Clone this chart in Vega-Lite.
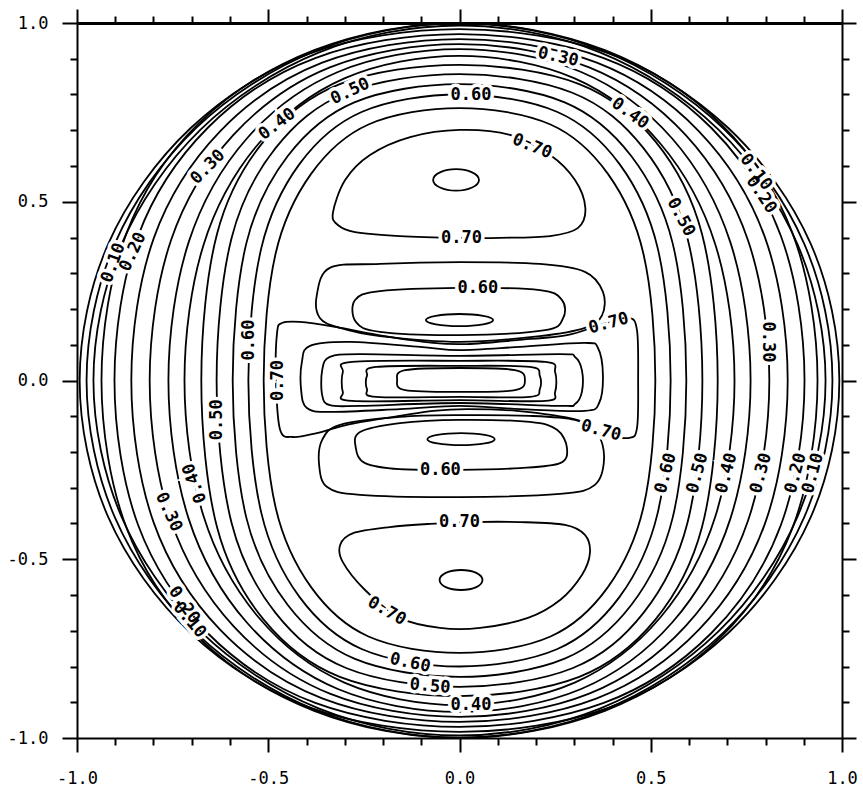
{
  "$schema": "https://vega.github.io/schema/vega-lite/v6.json",
  "autosize": "none",
  "width": 765,
  "height": 715,
  "padding": {"left": 77, "top": 23, "right": 21, "bottom": 54},
  "background": "white",
  "config": {
    "view": {"stroke": null},
    "axis": {"grid": false, "domainColor": "black", "tickColor": "black", "labelFont": "DejaVu Sans Mono", "labelFontSize": 17, "labelColor": "black", "domainWidth": 2, "tickWidth": 2}
  },
  "datasets": {
    "contours": [
      {"c":"o00","x":0.993,"y":0},{"c":"o00","x":0.918,"y":0.383},{"c":"o00","x":0.702,"y":0.707},{"c":"o00","x":0.38,"y":0.924},{"c":"o00","x":0,"y":1},{"c":"o00","x":-0.38,"y":0.924},{"c":"o00","x":-0.702,"y":0.707},{"c":"o00","x":-0.918,"y":0.383},{"c":"o00","x":-0.993,"y":0},{"c":"o00","x":-0.918,"y":-0.383},{"c":"o00","x":-0.702,"y":-0.707},{"c":"o00","x":-0.38,"y":-0.924},{"c":"o00","x":0,"y":-1},{"c":"o00","x":0.38,"y":-0.924},{"c":"o00","x":0.702,"y":-0.707},{"c":"o00","x":0.918,"y":-0.383},
      {"c":"o05","x":0.975,"y":0},{"c":"o05","x":0.901,"y":0.383},{"c":"o05","x":0.689,"y":0.706},{"c":"o05","x":0.373,"y":0.923},{"c":"o05","x":0,"y":0.999},{"c":"o05","x":-0.373,"y":0.923},{"c":"o05","x":-0.689,"y":0.706},{"c":"o05","x":-0.901,"y":0.383},{"c":"o05","x":-0.975,"y":0},{"c":"o05","x":-0.901,"y":-0.383},{"c":"o05","x":-0.689,"y":-0.706},{"c":"o05","x":-0.373,"y":-0.923},{"c":"o05","x":0,"y":-0.999},{"c":"o05","x":0.373,"y":-0.923},{"c":"o05","x":0.689,"y":-0.706},{"c":"o05","x":0.901,"y":-0.383},
      {"c":"o10","x":0.957,"y":0},{"c":"o10","x":0.884,"y":0.38},{"c":"o10","x":0.677,"y":0.702},{"c":"o10","x":0.367,"y":0.918},{"c":"o10","x":0,"y":0.993},{"c":"o10","x":-0.367,"y":0.918},{"c":"o10","x":-0.677,"y":0.702},{"c":"o10","x":-0.884,"y":0.38},{"c":"o10","x":-0.957,"y":0},{"c":"o10","x":-0.884,"y":-0.38},{"c":"o10","x":-0.677,"y":-0.702},{"c":"o10","x":-0.367,"y":-0.918},{"c":"o10","x":0,"y":-0.993},{"c":"o10","x":0.367,"y":-0.918},{"c":"o10","x":0.677,"y":-0.702},{"c":"o10","x":0.884,"y":-0.38},
      {"c":"o15","x":0.936,"y":0},{"c":"o15","x":0.871,"y":0.411},{"c":"o15","x":0.683,"y":0.718},{"c":"o15","x":0.391,"y":0.915},{"c":"o15","x":0,"y":0.983},{"c":"o15","x":-0.391,"y":0.915},{"c":"o15","x":-0.683,"y":0.718},{"c":"o15","x":-0.871,"y":0.411},{"c":"o15","x":-0.936,"y":0},{"c":"o15","x":-0.871,"y":-0.411},{"c":"o15","x":-0.683,"y":-0.718},{"c":"o15","x":-0.391,"y":-0.915},{"c":"o15","x":0,"y":-0.983},{"c":"o15","x":0.391,"y":-0.915},{"c":"o15","x":0.683,"y":-0.718},{"c":"o15","x":0.871,"y":-0.411},
      {"c":"o20","x":0.902,"y":0},{"c":"o20","x":0.84,"y":0.405},{"c":"o20","x":0.658,"y":0.707},{"c":"o20","x":0.377,"y":0.902},{"c":"o20","x":0,"y":0.969},{"c":"o20","x":-0.377,"y":0.902},{"c":"o20","x":-0.658,"y":0.707},{"c":"o20","x":-0.84,"y":0.405},{"c":"o20","x":-0.902,"y":0},{"c":"o20","x":-0.84,"y":-0.405},{"c":"o20","x":-0.658,"y":-0.707},{"c":"o20","x":-0.377,"y":-0.902},{"c":"o20","x":0,"y":-0.969},{"c":"o20","x":0.377,"y":-0.902},{"c":"o20","x":0.658,"y":-0.707},{"c":"o20","x":0.84,"y":-0.405},
      {"c":"o25","x":0.858,"y":0},{"c":"o25","x":0.799,"y":0.399},{"c":"o25","x":0.626,"y":0.697},{"c":"o25","x":0.359,"y":0.889},{"c":"o25","x":0,"y":0.955},{"c":"o25","x":-0.359,"y":0.889},{"c":"o25","x":-0.626,"y":0.697},{"c":"o25","x":-0.799,"y":0.399},{"c":"o25","x":-0.858,"y":0},{"c":"o25","x":-0.799,"y":-0.399},{"c":"o25","x":-0.626,"y":-0.697},{"c":"o25","x":-0.359,"y":-0.889},{"c":"o25","x":0,"y":-0.955},{"c":"o25","x":0.359,"y":-0.889},{"c":"o25","x":0.626,"y":-0.697},{"c":"o25","x":0.799,"y":-0.399},
      {"c":"o30","x":0.81,"y":0},{"c":"o30","x":0.754,"y":0.393},{"c":"o30","x":0.591,"y":0.687},{"c":"o30","x":0.339,"y":0.876},{"c":"o30","x":0,"y":0.941},{"c":"o30","x":-0.339,"y":0.876},{"c":"o30","x":-0.591,"y":0.687},{"c":"o30","x":-0.754,"y":0.393},{"c":"o30","x":-0.81,"y":0},{"c":"o30","x":-0.754,"y":-0.393},{"c":"o30","x":-0.591,"y":-0.687},{"c":"o30","x":-0.339,"y":-0.876},{"c":"o30","x":0,"y":-0.941},{"c":"o30","x":0.339,"y":-0.876},{"c":"o30","x":0.591,"y":-0.687},{"c":"o30","x":0.754,"y":-0.393},
      {"c":"o35","x":0.761,"y":0},{"c":"o35","x":0.708,"y":0.387},{"c":"o35","x":0.556,"y":0.677},{"c":"o35","x":0.318,"y":0.863},{"c":"o35","x":0,"y":0.927},{"c":"o35","x":-0.318,"y":0.863},{"c":"o35","x":-0.556,"y":0.677},{"c":"o35","x":-0.708,"y":0.387},{"c":"o35","x":-0.761,"y":0},{"c":"o35","x":-0.708,"y":-0.387},{"c":"o35","x":-0.556,"y":-0.677},{"c":"o35","x":-0.318,"y":-0.863},{"c":"o35","x":0,"y":-0.927},{"c":"o35","x":0.318,"y":-0.863},{"c":"o35","x":0.556,"y":-0.677},{"c":"o35","x":0.708,"y":-0.387},
      {"c":"o40","x":0.719,"y":0},{"c":"o40","x":0.669,"y":0.38},{"c":"o40","x":0.525,"y":0.663},{"c":"o40","x":0.301,"y":0.845},{"c":"o40","x":0,"y":0.908},{"c":"o40","x":-0.301,"y":0.845},{"c":"o40","x":-0.525,"y":0.663},{"c":"o40","x":-0.669,"y":0.38},{"c":"o40","x":-0.719,"y":0},{"c":"o40","x":-0.669,"y":-0.38},{"c":"o40","x":-0.525,"y":-0.663},{"c":"o40","x":-0.301,"y":-0.845},{"c":"o40","x":0,"y":-0.908},{"c":"o40","x":0.301,"y":-0.845},{"c":"o40","x":0.525,"y":-0.663},{"c":"o40","x":0.669,"y":-0.38},
      {"c":"o45","x":0.675,"y":0},{"c":"o45","x":0.634,"y":0.41},{"c":"o45","x":0.512,"y":0.669},{"c":"o45","x":0.313,"y":0.829},{"c":"o45","x":0,"y":0.883},{"c":"o45","x":-0.313,"y":0.829},{"c":"o45","x":-0.512,"y":0.669},{"c":"o45","x":-0.634,"y":0.41},{"c":"o45","x":-0.675,"y":0},{"c":"o45","x":-0.634,"y":-0.41},{"c":"o45","x":-0.512,"y":-0.669},{"c":"o45","x":-0.313,"y":-0.829},{"c":"o45","x":0,"y":-0.883},{"c":"o45","x":0.313,"y":-0.829},{"c":"o45","x":0.512,"y":-0.669},{"c":"o45","x":0.634,"y":-0.41},
      {"c":"o50","x":0.635,"y":0},{"c":"o50","x":0.596,"y":0.398},{"c":"o50","x":0.481,"y":0.65},{"c":"o50","x":0.295,"y":0.805},{"c":"o50","x":0,"y":0.857},{"c":"o50","x":-0.295,"y":0.805},{"c":"o50","x":-0.481,"y":0.65},{"c":"o50","x":-0.596,"y":0.398},{"c":"o50","x":-0.635,"y":0},{"c":"o50","x":-0.596,"y":-0.398},{"c":"o50","x":-0.481,"y":-0.65},{"c":"o50","x":-0.295,"y":-0.805},{"c":"o50","x":0,"y":-0.857},{"c":"o50","x":0.295,"y":-0.805},{"c":"o50","x":0.481,"y":-0.65},{"c":"o50","x":0.596,"y":-0.398},
      {"c":"o55","x":0.593,"y":0},{"c":"o55","x":0.557,"y":0.385},{"c":"o55","x":0.449,"y":0.628},{"c":"o55","x":0.275,"y":0.778},{"c":"o55","x":0,"y":0.829},{"c":"o55","x":-0.275,"y":0.778},{"c":"o55","x":-0.449,"y":0.628},{"c":"o55","x":-0.557,"y":0.385},{"c":"o55","x":-0.593,"y":0},{"c":"o55","x":-0.557,"y":-0.385},{"c":"o55","x":-0.449,"y":-0.628},{"c":"o55","x":-0.275,"y":-0.778},{"c":"o55","x":0,"y":-0.829},{"c":"o55","x":0.275,"y":-0.778},{"c":"o55","x":0.449,"y":-0.628},{"c":"o55","x":0.557,"y":-0.385},
      {"c":"o60","x":0.552,"y":0},{"c":"o60","x":0.518,"y":0.371},{"c":"o60","x":0.418,"y":0.606},{"c":"o60","x":0.256,"y":0.751},{"c":"o60","x":0,"y":0.8},{"c":"o60","x":-0.256,"y":0.751},{"c":"o60","x":-0.418,"y":0.606},{"c":"o60","x":-0.518,"y":0.371},{"c":"o60","x":-0.552,"y":0},{"c":"o60","x":-0.518,"y":-0.371},{"c":"o60","x":-0.418,"y":-0.606},{"c":"o60","x":-0.256,"y":-0.751},{"c":"o60","x":0,"y":-0.8},{"c":"o60","x":0.256,"y":-0.751},{"c":"o60","x":0.418,"y":-0.606},{"c":"o60","x":0.518,"y":-0.371},
      {"c":"o65","x":0.512,"y":0},{"c":"o65","x":0.481,"y":0.354},{"c":"o65","x":0.388,"y":0.578},{"c":"o65","x":0.238,"y":0.716},{"c":"o65","x":0,"y":0.762},{"c":"o65","x":-0.238,"y":0.716},{"c":"o65","x":-0.388,"y":0.578},{"c":"o65","x":-0.481,"y":0.354},{"c":"o65","x":-0.512,"y":0},{"c":"o65","x":-0.481,"y":-0.354},{"c":"o65","x":-0.388,"y":-0.578},{"c":"o65","x":-0.238,"y":-0.716},{"c":"o65","x":0,"y":-0.762},{"c":"o65","x":0.238,"y":-0.716},{"c":"o65","x":0.388,"y":-0.578},{"c":"o65","x":0.481,"y":-0.354},
      {"c":"lobeU70","x":-0.331,"y":0.469},{"c":"lobeU70","x":-0.299,"y":0.561},{"c":"lobeU70","x":-0.234,"y":0.631},{"c":"lobeU70","x":-0.129,"y":0.681},{"c":"lobeU70","x":0.001,"y":0.701},{"c":"lobeU70","x":0.132,"y":0.687},{"c":"lobeU70","x":0.237,"y":0.631},{"c":"lobeU70","x":0.302,"y":0.561},{"c":"lobeU70","x":0.329,"y":0.483},{"c":"lobeU70","x":0.31,"y":0.427},{"c":"lobeU70","x":0.237,"y":0.404},{"c":"lobeU70","x":0.106,"y":0.399},{"c":"lobeU70","x":0.001,"y":0.399},{"c":"lobeU70","x":-0.156,"y":0.404},{"c":"lobeU70","x":-0.273,"y":0.415},{"c":"lobeU70","x":-0.318,"y":0.435},
      {"c":"eU75","x":0.051,"y":0.561},{"c":"eU75","x":0.033,"y":0.582},{"c":"eU75","x":-0.009,"y":0.591},{"c":"eU75","x":-0.051,"y":0.582},{"c":"eU75","x":-0.069,"y":0.561},{"c":"eU75","x":-0.051,"y":0.54},{"c":"eU75","x":-0.009,"y":0.531},{"c":"eU75","x":0.033,"y":0.54},
      {"c":"lobeL70","x":-0.278,"y":-0.427},{"c":"lobeL70","x":-0.182,"y":-0.41},{"c":"lobeL70","x":-0.077,"y":-0.401},{"c":"lobeL70","x":0.027,"y":-0.396},{"c":"lobeL70","x":0.158,"y":-0.396},{"c":"lobeL70","x":0.276,"y":-0.404},{"c":"lobeL70","x":0.328,"y":-0.432},{"c":"lobeL70","x":0.341,"y":-0.483},{"c":"lobeL70","x":0.32,"y":-0.544},{"c":"lobeL70","x":0.263,"y":-0.614},{"c":"lobeL70","x":0.179,"y":-0.664},{"c":"lobeL70","x":0.054,"y":-0.692},{"c":"lobeL70","x":-0.051,"y":-0.692},{"c":"lobeL70","x":-0.156,"y":-0.664},{"c":"lobeL70","x":-0.247,"y":-0.586},{"c":"lobeL70","x":-0.305,"y":-0.508},{"c":"lobeL70","x":-0.312,"y":-0.46},
      {"c":"eL75","x":0.06,"y":-0.558},{"c":"eL75","x":0.044,"y":-0.538},{"c":"eL75","x":0.004,"y":-0.53},{"c":"eL75","x":-0.036,"y":-0.538},{"c":"eL75","x":-0.052,"y":-0.558},{"c":"eL75","x":-0.036,"y":-0.578},{"c":"eL75","x":0.004,"y":-0.586},{"c":"eL75","x":0.044,"y":-0.578},
      {"c":"midU65","x":-0.339,"y":0.315},{"c":"midU65","x":-0.208,"y":0.326},{"c":"midU65","x":0.001,"y":0.331},{"c":"midU65","x":0.21,"y":0.326},{"c":"midU65","x":0.328,"y":0.304},{"c":"midU65","x":0.375,"y":0.248},{"c":"midU65","x":0.373,"y":0.183},{"c":"midU65","x":0.328,"y":0.147},{"c":"midU65","x":0.21,"y":0.124},{"c":"midU65","x":0.001,"y":0.108},{"c":"midU65","x":-0.208,"y":0.124},{"c":"midU65","x":-0.312,"y":0.147},{"c":"midU65","x":-0.365,"y":0.175},{"c":"midU65","x":-0.373,"y":0.239},
      {"c":"midU60","x":-0.273,"y":0.225},{"c":"midU60","x":-0.208,"y":0.25},{"c":"midU60","x":0.001,"y":0.259},{"c":"midU60","x":0.21,"y":0.253},{"c":"midU60","x":0.268,"y":0.225},{"c":"midU60","x":0.271,"y":0.175},{"c":"midU60","x":0.224,"y":0.141},{"c":"midU60","x":0.001,"y":0.127},{"c":"midU60","x":-0.208,"y":0.136},{"c":"midU60","x":-0.271,"y":0.164},
      {"c":"eU55","x":0.088,"y":0.169},{"c":"eU55","x":0.062,"y":0.181},{"c":"eU55","x":0,"y":0.186},{"c":"eU55","x":-0.062,"y":0.181},{"c":"eU55","x":-0.088,"y":0.169},{"c":"eU55","x":-0.062,"y":0.157},{"c":"eU55","x":0,"y":0.152},{"c":"eU55","x":0.062,"y":0.157},
      {"c":"midL65","x":-0.312,"y":-0.124},{"c":"midL65","x":-0.156,"y":-0.102},{"c":"midL65","x":0.001,"y":-0.097},{"c":"midL65","x":0.184,"y":-0.099},{"c":"midL65","x":0.302,"y":-0.11},{"c":"midL65","x":0.359,"y":-0.144},{"c":"midL65","x":0.378,"y":-0.217},{"c":"midL65","x":0.354,"y":-0.292},{"c":"midL65","x":0.263,"y":-0.317},{"c":"midL65","x":0.001,"y":-0.326},{"c":"midL65","x":-0.26,"y":-0.32},{"c":"midL65","x":-0.346,"y":-0.298},{"c":"midL65","x":-0.367,"y":-0.236},{"c":"midL65","x":-0.359,"y":-0.166},
      {"c":"midL60","x":-0.26,"y":-0.144},{"c":"midL60","x":-0.156,"y":-0.119},{"c":"midL60","x":0.001,"y":-0.11},{"c":"midL60","x":0.184,"y":-0.116},{"c":"midL60","x":0.255,"y":-0.138},{"c":"midL60","x":0.281,"y":-0.189},{"c":"midL60","x":0.263,"y":-0.231},{"c":"midL60","x":0.158,"y":-0.245},{"c":"midL60","x":0.001,"y":-0.25},{"c":"midL60","x":-0.156,"y":-0.248},{"c":"midL60","x":-0.247,"y":-0.231},{"c":"midL60","x":-0.271,"y":-0.189},
      {"c":"eL55","x":0.092,"y":-0.164},{"c":"eL55","x":0.066,"y":-0.152},{"c":"eL55","x":0.004,"y":-0.147},{"c":"eL55","x":-0.058,"y":-0.152},{"c":"eL55","x":-0.084,"y":-0.164},{"c":"eL55","x":-0.058,"y":-0.176},{"c":"eL55","x":0.004,"y":-0.181},{"c":"eL55","x":0.066,"y":-0.176},
      {"c":"band70","x":-0.464,"y":0.161},{"c":"band70","x":-0.417,"y":0.164},{"c":"band70","x":-0.325,"y":0.15},{"c":"band70","x":-0.195,"y":0.124},{"c":"band70","x":-0.069,"y":0.105},{"c":"band70","x":0.02,"y":0.102},{"c":"band70","x":0.15,"y":0.113},{"c":"band70","x":0.281,"y":0.127},{"c":"band70","x":0.367,"y":0.155},{"c":"band70","x":0.441,"y":0.175},{"c":"band70","x":0.464,"y":0.141},{"c":"band70","x":0.467,"y":0.001},{"c":"band70","x":0.464,"y":-0.133},{"c":"band70","x":0.441,"y":-0.161},{"c":"band70","x":0.367,"y":-0.147},{"c":"band70","x":0.307,"y":-0.11},{"c":"band70","x":0.15,"y":-0.085},{"c":"band70","x":0.02,"y":-0.08},{"c":"band70","x":-0.069,"y":-0.085},{"c":"band70","x":-0.156,"y":-0.099},{"c":"band70","x":-0.286,"y":-0.122},{"c":"band70","x":-0.373,"y":-0.147},{"c":"band70","x":-0.435,"y":-0.158},{"c":"band70","x":-0.469,"y":-0.138},{"c":"band70","x":-0.48,"y":0.001},{"c":"band70","x":-0.477,"y":0.133},
      {"c":"band75","x":-0.412,"y":0.052},{"c":"band75","x":-0.391,"y":0.097},{"c":"band75","x":-0.286,"y":0.108},{"c":"band75","x":-0.103,"y":0.094},{"c":"band75","x":0.001,"y":0.085},{"c":"band75","x":0.158,"y":0.094},{"c":"band75","x":0.328,"y":0.105},{"c":"band75","x":0.362,"y":0.091},{"c":"band75","x":0.375,"y":0.015},{"c":"band75","x":0.365,"y":-0.063},{"c":"band75","x":0.328,"y":-0.085},{"c":"band75","x":0.158,"y":-0.08},{"c":"band75","x":0.001,"y":-0.071},{"c":"band75","x":-0.156,"y":-0.08},{"c":"band75","x":-0.339,"y":-0.088},{"c":"band75","x":-0.399,"y":-0.077},{"c":"band75","x":-0.414,"y":-0.027},
      {"c":"band80","x":-0.359,"y":0.029},{"c":"band80","x":-0.339,"y":0.066},{"c":"band80","x":-0.26,"y":0.074},{"c":"band80","x":0.001,"y":0.069},{"c":"band80","x":0.263,"y":0.074},{"c":"band80","x":0.302,"y":0.066},{"c":"band80","x":0.32,"y":0.029},{"c":"band80","x":0.32,"y":-0.032},{"c":"band80","x":0.302,"y":-0.066},{"c":"band80","x":0.263,"y":-0.071},{"c":"band80","x":0.001,"y":-0.063},{"c":"band80","x":-0.26,"y":-0.071},{"c":"band80","x":-0.339,"y":-0.069},{"c":"band80","x":-0.359,"y":-0.041},
      {"c":"band85","x":-0.305,"y":0.024},{"c":"band85","x":-0.281,"y":0.052},{"c":"band85","x":0.001,"y":0.055},{"c":"band85","x":0.224,"y":0.052},{"c":"band85","x":0.25,"y":0.024},{"c":"band85","x":0.25,"y":-0.032},{"c":"band85","x":0.224,"y":-0.057},{"c":"band85","x":0.001,"y":-0.055},{"c":"band85","x":-0.281,"y":-0.057},{"c":"band85","x":-0.305,"y":-0.032},
      {"c":"band90","x":-0.242,"y":0.013},{"c":"band90","x":-0.218,"y":0.038},{"c":"band90","x":0.001,"y":0.041},{"c":"band90","x":0.184,"y":0.038},{"c":"band90","x":0.21,"y":0.013},{"c":"band90","x":0.21,"y":-0.024},{"c":"band90","x":0.184,"y":-0.046},{"c":"band90","x":0.001,"y":-0.046},{"c":"band90","x":-0.218,"y":-0.046},{"c":"band90","x":-0.242,"y":-0.024},
      {"c":"band95","x":-0.163,"y":0.001},{"c":"band95","x":-0.142,"y":0.029},{"c":"band95","x":0.001,"y":0.035},{"c":"band95","x":0.145,"y":0.029},{"c":"band95","x":0.171,"y":0.001},{"c":"band95","x":0.145,"y":-0.027},{"c":"band95","x":0.001,"y":-0.032},{"c":"band95","x":-0.142,"y":-0.027}
    ],
    "labels": [
      {"t":"0.10","x":-0.905,"y":0.329,"a":290},
      {"t":"0.20","x":-0.854,"y":0.36,"a":295},
      {"t":"0.30","x":-0.658,"y":0.597,"a":315},
      {"t":"0.40","x":-0.477,"y":0.717,"a":323},
      {"t":"0.50","x":-0.286,"y":0.809,"a":335},
      {"t":"0.60","x":0.03,"y":0.8,"a":0},
      {"t":"0.30","x":0.258,"y":0.905,"a":12},
      {"t":"0.40","x":0.446,"y":0.747,"a":36},
      {"t":"0.50","x":0.579,"y":0.457,"a":62},
      {"t":"0.10","x":0.775,"y":0.583,"a":52},
      {"t":"0.20","x":0.789,"y":0.52,"a":56},
      {"t":"0.30","x":0.806,"y":0.108,"a":90},
      {"t":"0.60","x":0.539,"y":-0.259,"a":285},
      {"t":"0.50","x":0.622,"y":-0.259,"a":285},
      {"t":"0.40","x":0.698,"y":-0.259,"a":285},
      {"t":"0.30","x":0.788,"y":-0.259,"a":285},
      {"t":"0.20","x":0.879,"y":-0.259,"a":285},
      {"t":"0.10","x":0.924,"y":-0.259,"a":285},
      {"t":"0.70","x":-0.474,"y":0.0,"a":270},
      {"t":"0.60","x":-0.551,"y":0.113,"a":270},
      {"t":"0.50","x":-0.634,"y":-0.11,"a":270},
      {"t":"0.40","x":-0.692,"y":-0.287,"a":250},
      {"t":"0.30","x":-0.76,"y":-0.368,"a":65},
      {"t":"0.20","x":-0.72,"y":-0.628,"a":55},
      {"t":"0.10","x":-0.706,"y":-0.67,"a":50},
      {"t":"0.70","x":-0.19,"y":-0.645,"a":30},
      {"t":"0.60","x":-0.129,"y":-0.79,"a":12},
      {"t":"0.50","x":-0.077,"y":-0.855,"a":5},
      {"t":"0.40","x":0.03,"y":-0.908,"a":0},
      {"t":"0.70","x":0.19,"y":0.655,"a":22},
      {"t":"0.70","x":0.005,"y":0.399,"a":0},
      {"t":"0.70","x":0.0,"y":-0.396,"a":0},
      {"t":"0.60","x":0.048,"y":0.259,"a":0},
      {"t":"0.60","x":-0.05,"y":-0.249,"a":0},
      {"t":"0.70","x":0.39,"y":0.16,"a":345},
      {"t":"0.70","x":0.37,"y":-0.14,"a":15}
    ]
  },
  "layer": [
    {
      "data": {"name": "contours"},
      "mark": {"type": "line", "interpolate": "cardinal-closed", "color": "black", "strokeWidth": 1.8, "clip": true},
      "encoding": {
        "x": {"field": "x", "type": "quantitative", "title": null, "scale": {"domain": [-1, 1], "nice": false, "zero": false},
          "axis": {"orient": "bottom", "values": [-1,-0.9,-0.8,-0.7,-0.6,-0.5,-0.4,-0.3,-0.2,-0.1,0,0.1,0.2,0.3,0.4,0.5,0.6,0.7,0.8,0.9,1],
            "labelExpr": "indexof([-1,-0.5,0,0.5,1], datum.value) >= 0 ? replace(format(datum.value, '.1f'), '\u2212', '-') : ''",
            "tickSize": {"condition": {"test": "indexof([-1,-0.5,0,0.5,1], datum.value) >= 0", "value": 14}, "value": 7},
            "labelPadding": 18, "labelFlush": false, "labelOverlap": false, "labelBound": false}},
        "y": {"field": "y", "type": "quantitative", "title": null, "scale": {"domain": [-1, 1], "nice": false, "zero": false},
          "axis": {"orient": "left", "values": [-1,-0.9,-0.8,-0.7,-0.6,-0.5,-0.4,-0.3,-0.2,-0.1,0,0.1,0.2,0.3,0.4,0.5,0.6,0.7,0.8,0.9,1],
            "labelExpr": "indexof([-1,-0.5,0,0.5,1], datum.value) >= 0 ? replace(format(datum.value, '.1f'), '\u2212', '-') : ''",
            "tickSize": {"condition": {"test": "indexof([-1,-0.5,0,0.5,1], datum.value) >= 0", "value": 15}, "value": 7},
            "labelPadding": 14, "labelFlush": false, "labelOverlap": false, "labelBound": false}},
        "detail": {"field": "c"},
        "order": {"value": null}
      }
    },
    {
      "data": {"name": "labels"},
      "mark": {"type": "text", "font": "DejaVu Sans Mono", "fontSize": 17, "fontWeight": "bold", "align": "center", "baseline": "middle", "fill": "white", "stroke": "white", "strokeWidth": 7},
      "encoding": {
        "x": {"field": "x", "type": "quantitative", "title": null, "scale": {"domain": [-1, 1], "nice": false, "zero": false},
          "axis": {"orient": "top", "values": [-1,-0.9,-0.8,-0.7,-0.6,-0.5,-0.4,-0.3,-0.2,-0.1,0,0.1,0.2,0.3,0.4,0.5,0.6,0.7,0.8,0.9,1], "labels": false, "domainWidth": 3,
            "tickSize": {"condition": {"test": "indexof([-1,-0.5,0,0.5,1], datum.value) >= 0", "value": 14}, "value": 7}}},
        "y": {"field": "y", "type": "quantitative", "title": null, "scale": {"domain": [-1, 1], "nice": false, "zero": false},
          "axis": {"orient": "right", "values": [-1,-0.9,-0.8,-0.7,-0.6,-0.5,-0.4,-0.3,-0.2,-0.1,0,0.1,0.2,0.3,0.4,0.5,0.6,0.7,0.8,0.9,1], "labels": false,
            "tickSize": {"condition": {"test": "indexof([-1,-0.5,0,0.5,1], datum.value) >= 0", "value": 14}, "value": 7}}},
        "text": {"field": "t"},
        "angle": {"field": "a", "type": "quantitative", "scale": null}
      }
    },
    {
      "data": {"name": "labels"},
      "mark": {"type": "text", "font": "DejaVu Sans Mono", "fontSize": 17, "fontWeight": "bold", "align": "center", "baseline": "middle", "color": "black"},
      "encoding": {
        "x": {"field": "x", "type": "quantitative", "axis": null, "scale": {"domain": [-1, 1], "nice": false, "zero": false}},
        "y": {"field": "y", "type": "quantitative", "axis": null, "scale": {"domain": [-1, 1], "nice": false, "zero": false}},
        "text": {"field": "t"},
        "angle": {"field": "a", "type": "quantitative", "scale": null}
      }
    }
  ],
  "resolve": {"axis": {"x": "independent", "y": "independent"}}
}
